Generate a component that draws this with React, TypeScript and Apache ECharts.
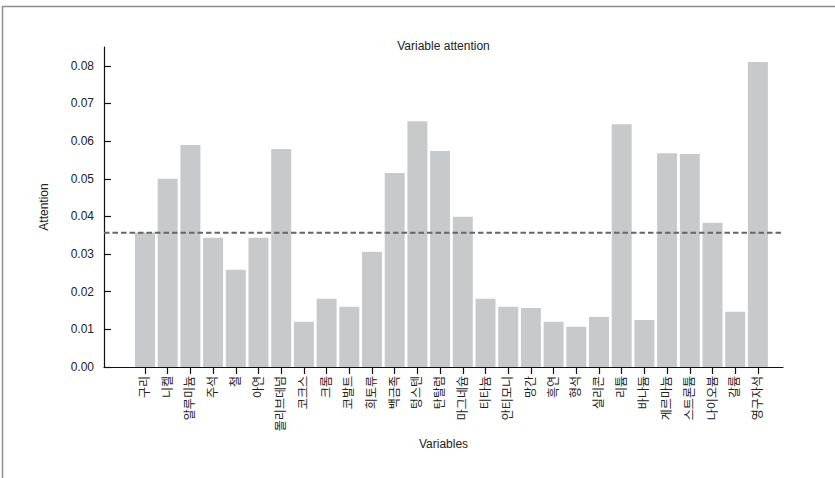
import React, { useEffect, useRef } from "react";
import * as echarts from "echarts";

// Variables and their attention weights
const variables: string[] = [
  "구리", "니켈", "알루미늄", "주석", "철", "아연", "몰리브데넘", "코크스", "크롬", "코발트",
  "희토류", "백금족", "텅스텐", "탄탈럼", "마그네슘", "티타늄", "안티모니", "망간", "흑연", "형석",
  "실리콘", "리튬", "바나듐", "게르마늄", "스트론튬", "나이오븀", "갈륨", "영구자석",
];

const attention: number[] = [
  0.0357, 0.0500, 0.0590, 0.0343, 0.0258, 0.0343, 0.0579, 0.0120, 0.0181, 0.0160,
  0.0306, 0.0515, 0.0653, 0.0574, 0.0399, 0.0181, 0.0160, 0.0157, 0.0120, 0.0107,
  0.0133, 0.0645, 0.0125, 0.0568, 0.0566, 0.0383, 0.0147, 0.0810,
];

const yTicks: number[] = [0, 0.01, 0.02, 0.03, 0.04, 0.05, 0.06, 0.07, 0.08];

const meanAttention = attention.reduce((a, b) => a + b, 0) / attention.length;

const FONT = "'Liberation Sans', 'Noto Sans CJK KR', sans-serif";
const Y_MAX = 0.085;

// plot frame (pixels)
const AX_LEFT = 104;
const AX_RIGHT = 783;
const AX_TOP = 47;
const AX_BOTTOM = 367;
const H = 478;
const W = 835;
// category band layout
const BAND = 22.7;
const FIRST_CENTER = 145;
const catLeft = FIRST_CENTER - BAND / 2;
const catWidth = BAND * variables.length;

export default function App() {
  const ref = useRef<HTMLDivElement>(null);

  useEffect(() => {
    if (!ref.current) return;
    const chart = echarts.init(ref.current, undefined, { renderer: "svg" });
    chart.setOption({
      animation: false,
      backgroundColor: "#ffffff",
      textStyle: { fontFamily: FONT },
      graphic: [
        {
          type: "rect",
          shape: { x: 2.5, y: 6.5, width: 1000, height: 1000 },
          style: { fill: "none", stroke: "#8e8e8e", lineWidth: 1.5 },
          silent: true,
        },
        {
          type: "text",
          x: (AX_LEFT + AX_RIGHT) / 2,
          y: 46,
          style: {
            text: "Variable attention",
            fontSize: 12,
            fontFamily: FONT,
            fill: "#222",
            align: "center",
            verticalAlign: "middle",
          },
        },
      ],
      grid: [
        {
          left: AX_LEFT,
          top: AX_TOP,
          width: AX_RIGHT - AX_LEFT,
          height: AX_BOTTOM - AX_TOP,
        },
        {
          left: catLeft,
          top: AX_TOP,
          width: catWidth,
          height: AX_BOTTOM - AX_TOP,
        },
      ],
      xAxis: [
        {
          type: "value",
          gridIndex: 0,
          min: 0,
          max: 1,
          axisLine: { show: true, lineStyle: { color: "#111", width: 1.2 } },
          axisTick: { show: false },
          axisLabel: { show: false },
          splitLine: { show: false },
          name: "Variables",
          nameLocation: "middle",
          nameGap: 71,
          nameTextStyle: { fontSize: 12, color: "#222", fontFamily: FONT },
        },
        {
          type: "category",
          gridIndex: 1,
          data: variables,
          axisLine: { show: false },
          axisTick: {
            show: true,
            alignWithLabel: true,
            interval: 0,
            length: 7,
            lineStyle: { color: "#111", width: 1.2 },
          },
          axisLabel: {
            interval: 0,
            rotate: 90,
            margin: 9,
            fontSize: 12,
            color: "#222",
            fontFamily: FONT,
          },
          splitLine: { show: false },
        },
      ],
      yAxis: [
        {
          type: "value",
          gridIndex: 0,
          min: 0,
          max: Y_MAX,
          name: "Attention",
          nameLocation: "middle",
          nameGap: 54,
          nameTextStyle: { fontSize: 12, color: "#222", fontFamily: FONT },
          axisLine: { show: true, lineStyle: { color: "#111", width: 1.2 } },
          axisTick: {
            show: true,
            inside: true,
            length: 7,
            customValues: yTicks,
            lineStyle: { color: "#111", width: 1.2 },
          },
          axisLabel: {
            customValues: yTicks,
            margin: 10,
            fontSize: 12,
            color: "#222",
            fontFamily: FONT,
            formatter: (v: number) => v.toFixed(2),
          },
          splitLine: { show: false },
        },
        {
          type: "value",
          gridIndex: 1,
          min: 0,
          max: Y_MAX,
          show: false,
          splitLine: { show: false },
        },
      ],
      series: [
        {
          type: "bar",
          xAxisIndex: 1,
          yAxisIndex: 1,
          data: attention,
          barCategoryGap: "12%",
          itemStyle: { color: "#c8c9cb" },
          silent: true,
          z: 2,
        },
        {
          // mean attention across all variables
          type: "line",
          xAxisIndex: 0,
          yAxisIndex: 0,
          data: [
            [0, meanAttention],
            [1, meanAttention],
          ],
          symbol: "none",
          lineStyle: { color: "#666", width: 2, type: [5.5, 3] },
          silent: true,
          z: 3,
        },
      ],
    });
    return () => chart.dispose();
  }, []);

  return (
    <div
      ref={ref}
      style={{ position: "absolute", left: 0, top: 0, width: W, height: H }}
    />
  );
}
